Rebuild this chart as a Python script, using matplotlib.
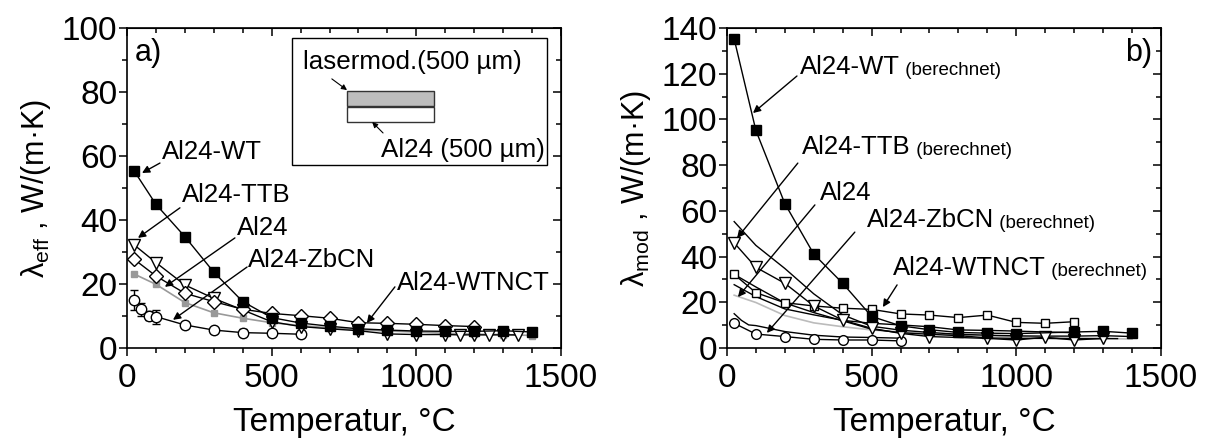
import matplotlib
matplotlib.use("Agg")
import matplotlib.pyplot as plt
from matplotlib.patches import Rectangle
from matplotlib.ticker import MultipleLocator

plt.rcParams['font.family'] = ['Liberation Sans', 'DejaVu Sans']
plt.rcParams['mathtext.fontset'] = 'custom'
plt.rcParams['mathtext.rm'] = 'Liberation Sans'
plt.rcParams['mathtext.it'] = 'Liberation Sans:italic'

# ---- panel a: effective conductivity (measured) ----
t_wt = [25, 100, 200, 300, 400, 500, 600, 700, 800, 900, 1000, 1100, 1200, 1300, 1400]
wt_eff = [55.3, 44.9, 34.8, 23.7, 14.5, 9.5, 7.8, 6.8, 6.0, 5.6, 5.3, 5.2, 5.2, 5.4, 5.0]

t_ttb = [25, 100, 200, 300, 400, 500, 600, 700, 800, 900, 1000, 1100, 1150, 1200, 1250, 1300, 1350]
ttb_eff = [32.2, 26.7, 19.7, 15.5, 11.9, 8.2, 6.7, 6.0, 5.4, 4.4, 4.2, 4.2, 4.1, 4.1, 4.1, 4.1, 4.1]
ttb_err = [0, 0, 1.0, 0, 0, 0, 0, 1.0, 0, 1.0, 1.0, 0, 1.0, 0, 1.0, 0, 1.0]

t_al = [25, 100, 200, 300, 400, 500, 600, 700, 800, 900, 1000, 1100, 1200, 1300, 1400]
al_eff = [23.1, 19.9, 14.2, 11.0, 9.3, 7.9, 7.0, 6.3, 5.7, 5.3, 5.0, 4.6, 4.3, 4.2, 3.9]

t_nct = [25, 100, 200, 300, 400, 500, 600, 700, 800, 900, 1000, 1100, 1200]
nct_eff = [27.7, 22.5, 17.1, 14.5, 12.1, 10.8, 10.1, 9.3, 7.9, 7.7, 7.4, 7.0, 6.7]

t_zb = [25, 50, 75, 100, 200, 300, 400, 500, 600]
zb_eff = [15.0, 12.1, 10.1, 9.8, 7.2, 5.6, 4.8, 4.6, 4.3]
zb_err = [3.0, 2.0, 1.5, 2.2, 0.8, 0.8, 1.0, 1.0, 1.0]

# ---- panel b: modified-layer conductivity (calculated) ----
t_wt_b = [25, 100, 200, 300, 400, 500, 600, 700, 800, 900, 1000, 1200, 1300, 1400]
wt_mod = [135.2, 95.2, 63.2, 41.1, 28.3, 13.8, 9.7, 8.0, 6.8, 6.5, 6.3, 7.0, 7.3, 6.5]

t_ttb_b = [25, 100, 200, 300, 400, 500, 600, 700, 900, 1000, 1100, 1200, 1300]
ttb_mod = [46.0, 35.3, 28.3, 18.4, 12.2, 8.6, 6.4, 5.0, 4.2, 3.5, 4.7, 3.5, 4.2]

t_nct_b = [25, 100, 200, 300, 400, 500, 600, 700, 800, 900, 1000, 1100, 1200]
nct_mod = [32.2, 24.2, 19.8, 18.4, 17.4, 16.9, 14.9, 14.4, 13.3, 14.4, 11.2, 10.8, 11.5]

t_zb_b = [25, 100, 200, 300, 400, 500, 600]
zb_mod = [10.8, 6.1, 5.0, 3.8, 3.5, 3.5, 3.1]

FS_TICK = 24
FS_LABEL = 24
FS_ANN = 18.5
FS_SMALL = 13.5
ARROW = dict(arrowstyle='-|>', color='black', lw=1.0, mutation_scale=11,
             shrinkA=0, shrinkB=0)


def style_axes(ax, ymax, ymajor):
    ax.set_xlim(0, 1500)
    ax.set_ylim(0, ymax)
    ax.xaxis.set_major_locator(MultipleLocator(500))
    ax.xaxis.set_minor_locator(MultipleLocator(100))
    ax.yaxis.set_major_locator(MultipleLocator(ymajor))
    ax.yaxis.set_minor_locator(MultipleLocator(ymajor / 2))
    ax.tick_params(which='both', direction='out', labelsize=FS_TICK, width=1.1)
    ax.tick_params(axis='x', pad=5)
    ax.tick_params(axis='y', pad=1)
    ax.tick_params(which='major', length=6)
    ax.tick_params(which='minor', length=3.5)
    for s in ax.spines.values():
        s.set_linewidth(1.2)
    top = ax.secondary_xaxis('top')
    top.xaxis.set_major_locator(MultipleLocator(500))
    top.xaxis.set_minor_locator(MultipleLocator(100))
    top.tick_params(which='both', direction='in', labeltop=False, width=1.1)
    top.tick_params(which='major', length=6)
    top.tick_params(which='minor', length=3.5)
    right = ax.secondary_yaxis('right')
    right.yaxis.set_major_locator(MultipleLocator(ymajor))
    right.yaxis.set_minor_locator(MultipleLocator(ymajor / 2))
    right.tick_params(which='both', direction='in', labelright=False, width=1.1)
    right.tick_params(which='major', length=6)
    right.tick_params(which='minor', length=3.5)
    ax.set_xlabel('Temperatur, °C', fontsize=FS_LABEL, labelpad=9)


def label_with_note(ax, x, y, main, note=None):
    t = ax.text(x, y, main, fontsize=FS_ANN, ha='left', va='center')
    if note:
        ax.annotate(' ' + note, xy=(1, 0.02), xycoords=t, fontsize=FS_SMALL,
                    ha='left', va='bottom')
    return t


fig = plt.figure(figsize=(12.14, 4.41), dpi=100)
axa = fig.add_axes([0.1046, 0.2109, 0.3575, 0.7256])
axb = fig.add_axes([0.5988, 0.2109, 0.3575, 0.7256])

# ---------------- panel a ----------------
lk = dict(color='black', lw=1.0)
axa.plot(t_al, al_eff, color='#999999', lw=1.2, marker='s', ms=4.5,
         mfc='#999999', mec='#999999', zorder=2)
axa.errorbar(t_zb, zb_eff, yerr=zb_err, marker='o', ms=7.5, mfc='white', mec='black',
             capsize=3, elinewidth=1.0, zorder=3, **lk)
axa.errorbar(t_ttb, ttb_eff, yerr=ttb_err, marker='v', ms=8, mfc='white', mec='black',
             capsize=0, elinewidth=1.0, zorder=4, **lk)
axa.plot(t_nct, nct_eff, marker='D', ms=7.5, mfc='white', mec='black', zorder=5, **lk)
axa.plot(t_wt, wt_eff, marker='s', ms=6.5, mfc='black', mec='black', zorder=6, **lk)
style_axes(axa, 100, 20)
axa.set_ylabel(r'$\mathrm{\lambda}_{\rm eff}$ , W/(m·K)', fontsize=22, labelpad=6)

label_with_note(axa, 121, 61.3, 'Al24-WT')
axa.annotate('', xy=(52, 54.7), xytext=(114, 57.8), arrowprops=ARROW)
label_with_note(axa, 190, 47.8, 'Al24-TTB')
axa.annotate('', xy=(38, 34.4), xytext=(183, 43.8), arrowprops=ARROW)
label_with_note(axa, 380, 37.5, 'Al24')
axa.annotate('', xy=(131, 19.1), xytext=(373, 34.4), arrowprops=ARROW)
label_with_note(axa, 418, 27.5, 'Al24-ZbCN')
axa.annotate('', xy=(159, 8.8), xytext=(415, 25.3), arrowprops=ARROW)
label_with_note(axa, 933, 20.3, 'Al24-WTNCT')
axa.annotate('', xy=(829, 7.8), xytext=(926, 19.1), arrowprops=ARROW)

axa.text(0.018, 0.922, 'a)', transform=axa.transAxes, fontsize=22, va='center')

# inset sketch of the layer structure
tr = axa.transAxes
axa.add_patch(Rectangle((0.380, 0.572), 0.588, 0.397, transform=tr,
                        fc='white', ec='black', lw=1.0, zorder=7))
axa.add_patch(Rectangle((0.507, 0.756), 0.200, 0.047, transform=tr,
                        fc='#bdbdbd', ec='#333333', lw=1.0, zorder=8))
axa.add_patch(Rectangle((0.507, 0.706), 0.200, 0.047, transform=tr,
                        fc='white', ec='#333333', lw=1.0, zorder=8))
axa.text(0.405, 0.894, 'lasermod.(500 µm)', transform=tr, fontsize=18.7,
         va='center', ha='left', zorder=9)
axa.text(0.963, 0.619, 'Al24 (500 µm)', transform=tr, fontsize=18.7,
         va='center', ha='right', zorder=9)
axa.annotate('', xy=(0.507, 0.806), xytext=(0.472, 0.841), xycoords=tr,
             textcoords=tr, arrowprops=dict(ARROW, mutation_scale=8, lw=0.8), zorder=9)
axa.annotate('', xy=(0.565, 0.706), xytext=(0.590, 0.672), xycoords=tr,
             textcoords=tr, arrowprops=dict(ARROW, mutation_scale=8, lw=0.8), zorder=9)

# ---------------- panel b ----------------
# measured effective values (panel a) as plain lines for reference
axb.plot(t_al, al_eff, color='#bbbbbb', lw=1.2, zorder=1)
for tt, vv in ((t_wt, wt_eff), (t_ttb, ttb_eff), (t_nct, nct_eff), (t_zb, zb_eff)):
    axb.plot(tt, vv, color='black', lw=1.0, zorder=1)

axb.plot(t_zb_b, zb_mod, marker='o', ms=7, mfc='white', mec='black', zorder=3, **lk)
axb.plot(t_nct_b, nct_mod, marker='s', ms=6, mfc='white', mec='black', zorder=3, **lk)
axb.plot(t_ttb_b, ttb_mod, marker='v', ms=8, mfc='white', mec='black', zorder=4, **lk)
axb.plot(t_wt_b, wt_mod, marker='s', ms=6.5, mfc='black', mec='black', zorder=5, **lk)
style_axes(axb, 140, 20)
axb.set_ylabel(r'$\mathrm{\lambda}_{\rm mod}$ , W/(m·K)', fontsize=22, labelpad=6)

label_with_note(axb, 252, 122.9, 'Al24-WT', '(berechnet)')
axb.annotate('', xy=(90, 102.8), xytext=(242, 119.0), arrowprops=ARROW)
label_with_note(axb, 259, 87.9, 'Al24-TTB', '(berechnet)')
axb.annotate('', xy=(35, 48.1), xytext=(245, 80.9), arrowprops=ARROW)
label_with_note(axb, 321, 67.8, 'Al24')
axb.annotate('', xy=(38, 22.3), xytext=(304, 62.6), arrowprops=ARROW)
label_with_note(axb, 484, 56.0, 'Al24-ZbCN', '(berechnet)')
axb.annotate('', xy=(138, 6.6), xytext=(442, 50.7), arrowprops=ARROW)
label_with_note(axb, 574, 35.0, 'Al24-WTNCT', '(berechnet)')
axb.annotate('', xy=(539, 17.9), xytext=(588, 27.6), arrowprops=ARROW)

axb.text(0.981, 0.922, 'b)', transform=axb.transAxes, fontsize=22,
         va='center', ha='right')

fig.savefig('out.png', dpi=100)
